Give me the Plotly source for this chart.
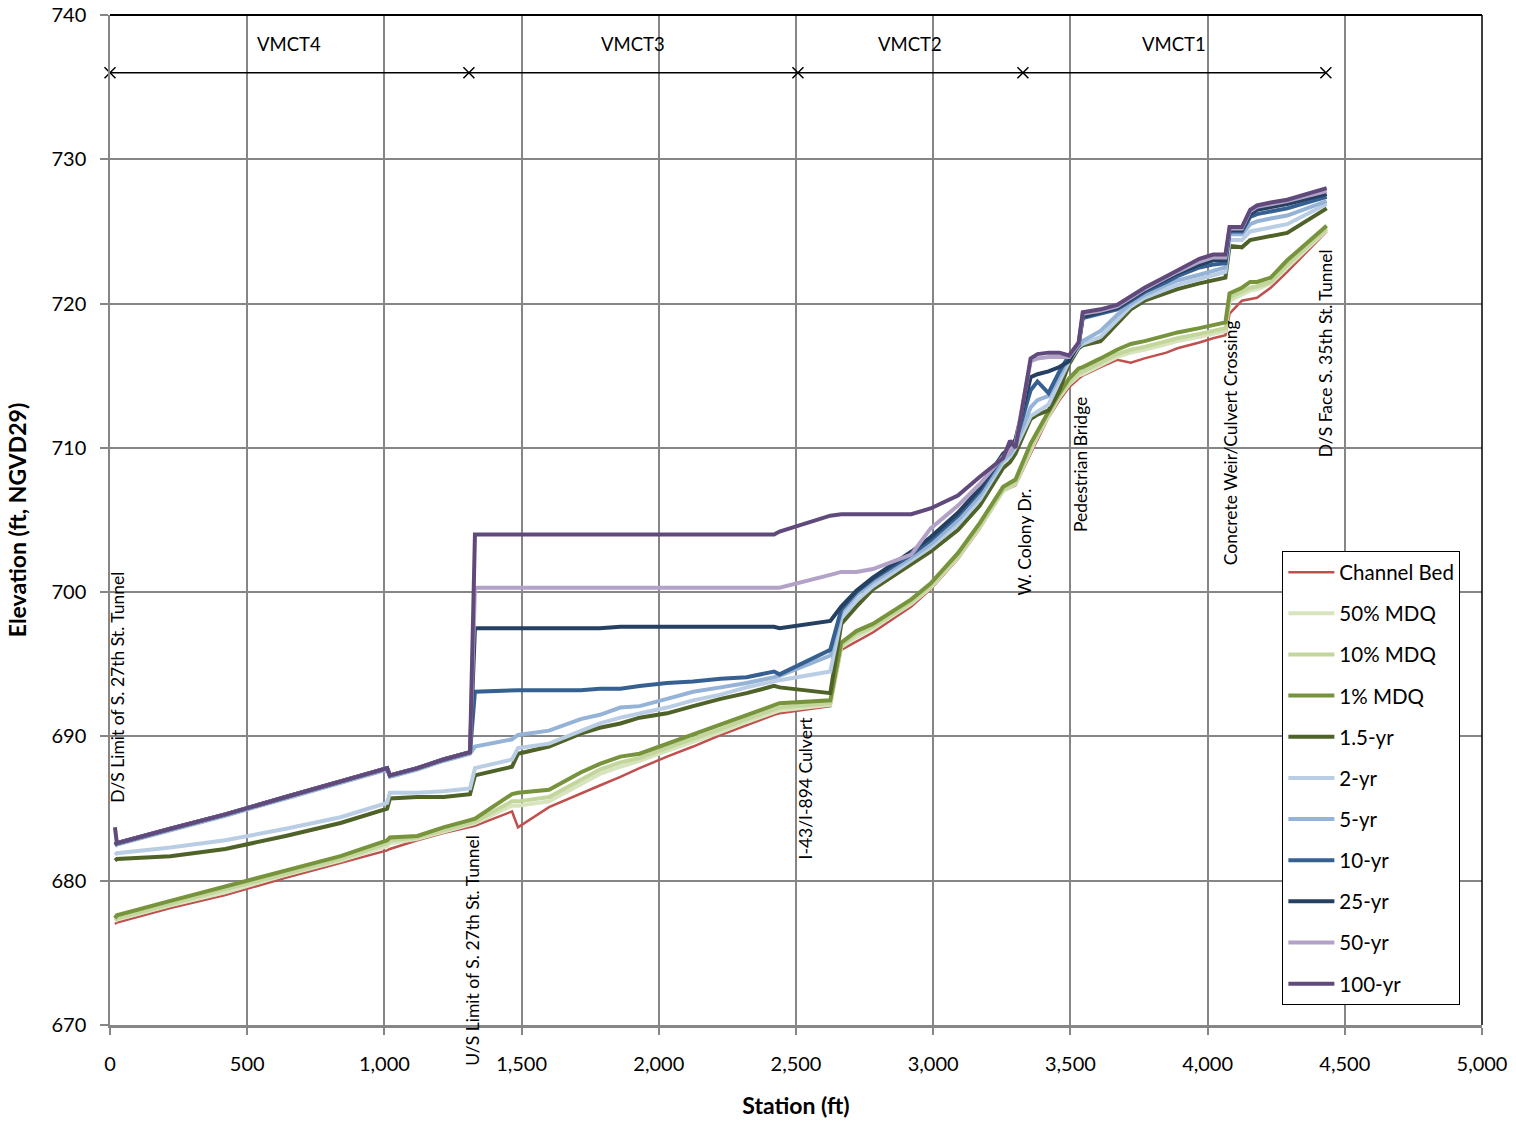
import plotly.graph_objects as go

# ---------------- data ----------------
stations = [18, 25, 220, 420, 640, 840, 1010, 1020, 1120, 1215, 1312, 1330, 1465, 1487, 1600,
            1715, 1785, 1860, 1930, 2030, 2125, 2225, 2320, 2420, 2440, 2625, 2665, 2720, 2780,
            2920, 2990, 3090, 3170, 3255, 3280, 3300, 3355, 3380, 3420, 3460, 3495, 3530, 3545,
            3610, 3670, 3720, 3770, 3850, 3890, 3970, 4020, 4065, 4080, 4125, 4155, 4180, 4230,
            4290, 4434]

channel_bed = [677.0, 677.1, 678.1, 679.0, 680.2, 681.2, 682.1, 682.2, 682.8, 683.3, 683.7, 683.8,
               684.8, 683.7, 685.1, 686.0, 686.6, 687.2, 687.8, 688.6, 689.3, 690.1, 690.8, 691.5,
               691.6, 692.1, 696.0, 696.6, 697.2, 699.0, 700.2, 702.3, 704.4, 707.0, 707.2, 707.4,
               709.6, 710.6, 712.1, 713.3, 714.2, 714.8, 715.0, 715.6, 716.1, 715.9, 716.2, 716.6,
               716.9, 717.3, 717.6, 717.8, 719.3, 720.2, 720.3, 720.4, 721.1, 722.2, 725.0]

mdq_50 = [677.2, 677.3, 678.3, 679.2, 680.4, 681.4, 682.4, 682.6, 682.9, 683.4, 683.9, 684.0,
          685.2, 685.2, 685.5, 686.7, 687.4, 687.9, 688.3, 689.0, 689.6, 690.3, 691.0, 691.7,
          691.8, 692.2, 696.2, 696.9, 697.5, 699.2, 700.3, 702.4, 704.5, 707.0, 707.3, 707.5,
          709.8, 710.8, 712.2, 713.5, 714.4, 715.0, 715.1, 715.7, 716.3, 716.6, 716.8, 717.2,
          717.4, 717.7, 717.9, 718.1, 720.2, 720.6, 720.9, 721.0, 721.4, 722.5, 725.1]

mdq_10 = [677.3, 677.4, 678.4, 679.4, 680.5, 681.5, 682.6, 682.8, 683.0, 683.5, 684.0, 684.1,
          685.5, 685.5, 685.8, 687.0, 687.7, 688.2, 688.5, 689.2, 689.8, 690.5, 691.2, 691.9,
          692.0, 692.3, 696.3, 697.1, 697.6, 699.3, 700.4, 702.5, 704.6, 707.1, 707.4, 707.6,
          710.0, 710.9, 712.3, 713.6, 714.5, 715.2, 715.3, 715.9, 716.5, 716.8, 717.0, 717.4,
          717.6, 717.9, 718.1, 718.3, 720.4, 720.8, 721.1, 721.2, 721.5, 722.7, 725.2]

mdq_1 = [677.4, 677.6, 678.6, 679.6, 680.7, 681.7, 682.8, 683.0, 683.1, 683.7, 684.2, 684.3,
         686.0, 686.1, 686.3, 687.5, 688.1, 688.6, 688.8, 689.5, 690.1, 690.8, 691.5, 692.2,
         692.3, 692.5, 696.5, 697.3, 697.8, 699.5, 700.6, 702.7, 704.8, 707.3, 707.6, 707.8,
         710.3, 711.1, 712.5, 713.8, 714.8, 715.5, 715.6, 716.2, 716.8, 717.2, 717.4, 717.8,
         718.0, 718.3, 718.5, 718.7, 720.7, 721.1, 721.5, 721.5, 721.8, 723.0, 725.4]

yr_1_5 = [681.4, 681.5, 681.7, 682.2, 683.1, 684.0, 685.0, 685.7, 685.8, 685.8, 686.0, 687.3,
          687.9, 688.8, 689.3, 690.2, 690.6, 690.9, 691.3, 691.6, 692.1, 692.6, 693.0, 693.5,
          693.4, 693.0, 697.8, 699.0, 700.2, 701.9, 702.8, 704.3, 706.0, 708.6, 709.0, 709.6,
          712.0, 712.3, 712.6, 714.0, 715.8, 716.9, 717.1, 717.4, 718.6, 719.6, 720.2, 720.7,
          721.0, 721.4, 721.6, 721.8, 724.0, 723.9, 724.4, 724.5, 724.7, 724.9, 726.6]

yr_2 = [681.8, 681.9, 682.3, 682.8, 683.6, 684.4, 685.4, 686.1, 686.1, 686.2, 686.4, 687.8,
        688.4, 689.2, 689.5, 690.4, 690.9, 691.3, 691.6, 692.0, 692.5, 692.9, 693.4, 693.8,
        693.9, 694.5, 698.2, 699.4, 700.4, 702.2, 703.1, 704.7, 706.4, 709.0, 709.4, 710.0,
        712.2, 712.5, 713.0, 714.6, 716.0, 717.0, 717.2, 717.7, 718.9, 719.8, 720.4, 721.0,
        721.3, 721.7, 722.0, 722.2, 724.4, 724.4, 725.0, 725.1, 725.3, 725.5, 726.9]

yr_5 = [682.4, 682.5, 683.5, 684.5, 685.7, 686.8, 687.7, 687.2, 687.7, 688.3, 688.8, 689.3,
        689.8, 690.1, 690.4, 691.2, 691.5, 692.0, 692.1, 692.6, 693.1, 693.4, 693.7, 694.1,
        694.2, 695.6, 698.6, 699.8, 700.7, 702.4, 703.3, 705.0, 706.7, 709.2, 709.6, 710.2,
        712.8, 713.3, 713.6, 715.0, 716.2, 717.0, 717.4, 718.1, 719.2, 720.0, 720.6, 721.3,
        721.6, 722.0, 722.3, 722.5, 724.8, 724.8, 725.5, 725.7, 725.9, 726.1, 727.1]

yr_10 = [682.5, 682.6, 683.6, 684.6, 685.8, 686.9, 687.8, 687.3, 687.8, 688.4, 688.9, 693.1,
         693.2, 693.2, 693.2, 693.2, 693.3, 693.3, 693.5, 693.7, 693.8, 694.0, 694.1, 694.5,
         694.3, 696.0, 698.8, 700.0, 700.9, 702.6, 703.6, 705.3, 707.0, 709.5, 709.9, 710.4,
         714.0, 714.6, 713.8, 715.3, 716.4, 717.1, 719.0, 719.3, 719.6, 720.2, 720.8, 721.5,
         721.9, 722.5, 722.7, 722.8, 725.0, 725.0, 726.0, 726.2, 726.4, 726.6, 727.4]

yr_25 = [682.5, 682.6, 683.6, 684.6, 685.8, 686.9, 687.8, 687.3, 687.8, 688.4, 688.9, 697.5,
         697.5, 697.5, 697.5, 697.5, 697.5, 697.6, 697.6, 697.6, 697.6, 697.6, 697.6, 697.6,
         697.5, 698.0, 699.0, 700.1, 701.0, 702.8, 703.8, 705.5, 707.2, 709.6, 710.0, 710.6,
         714.9, 715.1, 715.3, 715.6, 716.0, 717.2, 719.1, 719.4, 719.7, 720.3, 720.9, 721.7,
         722.1, 722.7, 723.0, 723.0, 725.1, 725.1, 726.2, 726.5, 726.7, 726.9, 727.6]

yr_50 = [682.6, 682.6, 683.6, 684.6, 685.8, 686.9, 687.8, 687.3, 687.8, 688.4, 688.9, 700.3,
         700.3, 700.3, 700.3, 700.3, 700.3, 700.3, 700.3, 700.3, 700.3, 700.3, 700.3, 700.3,
         700.3, 701.2, 701.4, 701.4, 701.6, 702.6, 704.4, 706.0, 707.5, 709.4, 709.8, 710.3,
         716.0, 716.2, 716.3, 716.3, 716.3, 717.2, 719.3, 719.5, 719.8, 720.4, 721.0, 721.8,
         722.2, 722.9, 723.2, 723.2, 725.2, 725.2, 726.4, 726.7, 726.9, 727.1, 727.8]

yr_100 = [683.7, 682.6, 683.6, 684.6, 685.8, 686.9, 687.8, 687.3, 687.8, 688.4, 688.9, 704.0,
          704.0, 704.0, 704.0, 704.0, 704.0, 704.0, 704.0, 704.0, 704.0, 704.0, 704.0, 704.0,
          704.2, 705.3, 705.4, 705.4, 705.4, 705.4, 705.8, 706.7, 708.0, 709.3, 710.5, 710.0,
          716.2, 716.5, 716.6, 716.6, 716.4, 717.3, 719.4, 719.6, 719.9, 720.5, 721.1, 721.9,
          722.3, 723.1, 723.4, 723.4, 725.3, 725.3, 726.5, 726.8, 727.0, 727.2, 728.0]

series_names = ["Channel Bed", "50% MDQ", "10% MDQ", "1% MDQ", "1.5-yr", "2-yr", "5-yr",
                "10-yr", "25-yr", "50-yr", "100-yr"]
series_values = [channel_bed, mdq_50, mdq_10, mdq_1, yr_1_5, yr_2, yr_5, yr_10, yr_25, yr_50, yr_100]
series_colors = ["#C0504D", "#D7E4BD", "#C3D69B", "#77933C", "#4F6228", "#B9CDE5", "#95B3D7",
                 "#376092", "#254061", "#B3A2C7", "#604A7B"]

# reach boundaries
reach_sta = [0, 1308, 2507, 3327, 4431]
reach_elev = [736, 736, 736, 736, 736]
reach_labels = ["VMCT4", "VMCT3", "VMCT2", "VMCT1"]
reach_label_sta = [652, 1906, 2915, 3878]

# structure labels (vertical text)
struct_labels = ["D/S Limit of S. 27th St. Tunnel", "U/S Limit of S. 27th St. Tunnel",
                 "I-43/I-894 Culvert", "W. Colony Dr.", "Pedestrian Bridge",
                 "Concrete Weir/Culvert Crossing", "D/S Face S. 35th St. Tunnel"]
struct_sta = [29, 1323, 2533, 3331, 3539, 4082, 4431]
struct_base = [685.3, 667.0, 681.3, 699.6, 704.0, 701.7, 709.2]

Y_MIN, Y_MAX = 670, 740
FONT = "Lato, 'Open Sans', sans-serif"

fig = go.Figure()
for i, (name, vals, col) in enumerate(zip(series_names, series_values, series_colors)):
    fig.add_trace(go.Scatter(
        x=stations, y=vals, mode="lines", name=name,
        line=dict(color=col, width=2.5 if i == 0 else 4),
        legendgroup=name,
    ))

fig.add_trace(go.Scatter(
    x=reach_sta, y=reach_elev, mode="lines+markers", showlegend=False,
    line=dict(color="black", width=1.5),
    marker=dict(symbol="x-thin", size=11, line=dict(color="black", width=1.5)),
    cliponaxis=False,
))

annotations = []
for lab, s in zip(reach_labels, reach_label_sta):
    annotations.append(dict(x=s, y=738, xref="x", yref="y", text=lab, showarrow=False,
                            font=dict(family=FONT, size=18.5, color="black")))
for lab, s, b in zip(struct_labels, struct_sta, struct_base):
    annotations.append(dict(x=s, y=(b - Y_MIN) / (Y_MAX - Y_MIN), xref="x", yref="paper",
                            text=lab, showarrow=False,
                            textangle=-90, xanchor="center", yanchor="bottom",
                            font=dict(family=FONT, size=17.5, color="black")))

fig.update_layout(
    width=1516, height=1122,
    margin=dict(l=110, r=34, t=15, b=97, autoexpand=False),
    paper_bgcolor="white", plot_bgcolor="white",
    font=dict(family=FONT, size=20, color="black"),
    showlegend=True,
    legend=dict(x=0.8545, y=0.469, xanchor="left", yanchor="top",
                bgcolor="white", bordercolor="black", borderwidth=1,
                font=dict(family=FONT, size=20.5, color="black"),
                tracegroupgap=11.5, itemwidth=46),
    annotations=annotations,
    shapes=[
        dict(type="line", xref="paper", yref="paper", x0=0, x1=1, y0=1, y1=1,
             line=dict(color="black", width=2)),
        dict(type="line", xref="paper", yref="paper", x0=1, x1=1, y0=0, y1=1,
             line=dict(color="black", width=1.5)),
    ],
)
fig.update_xaxes(
    range=[0, 5000], dtick=500, tickformat=",", showgrid=True, gridcolor="#868686", gridwidth=1.5,
    showline=True, linecolor="#868686", linewidth=3, ticks="outside", ticklen=7,
    tickcolor="#868686", tickwidth=1.5, zeroline=False, automargin=False,
    ticklabelstandoff=12, ticklabeloverflow="allow",
    title=dict(text="<b>Station (ft)</b>", font=dict(family=FONT, size=23), standoff=24),
    tickfont=dict(family=FONT, size=20),
)
fig.update_yaxes(
    range=[Y_MIN, Y_MAX], dtick=10, showgrid=True, gridcolor="#868686", gridwidth=1.5,
    showline=True, linecolor="#868686", linewidth=1.5, ticks="outside", ticklen=8,
    tickcolor="#868686", tickwidth=1.5, zeroline=False, automargin=False,
    ticklabelstandoff=10, ticklabeloverflow="allow",
    title=dict(text="<b>Elevation (ft, NGVD29)</b>", font=dict(family=FONT, size=23), standoff=18),
    tickfont=dict(family=FONT, size=20),
)

fig.write_html("out.html", config={"displayModeBar": False},
               post_script="document.body.style.margin='0px';")
